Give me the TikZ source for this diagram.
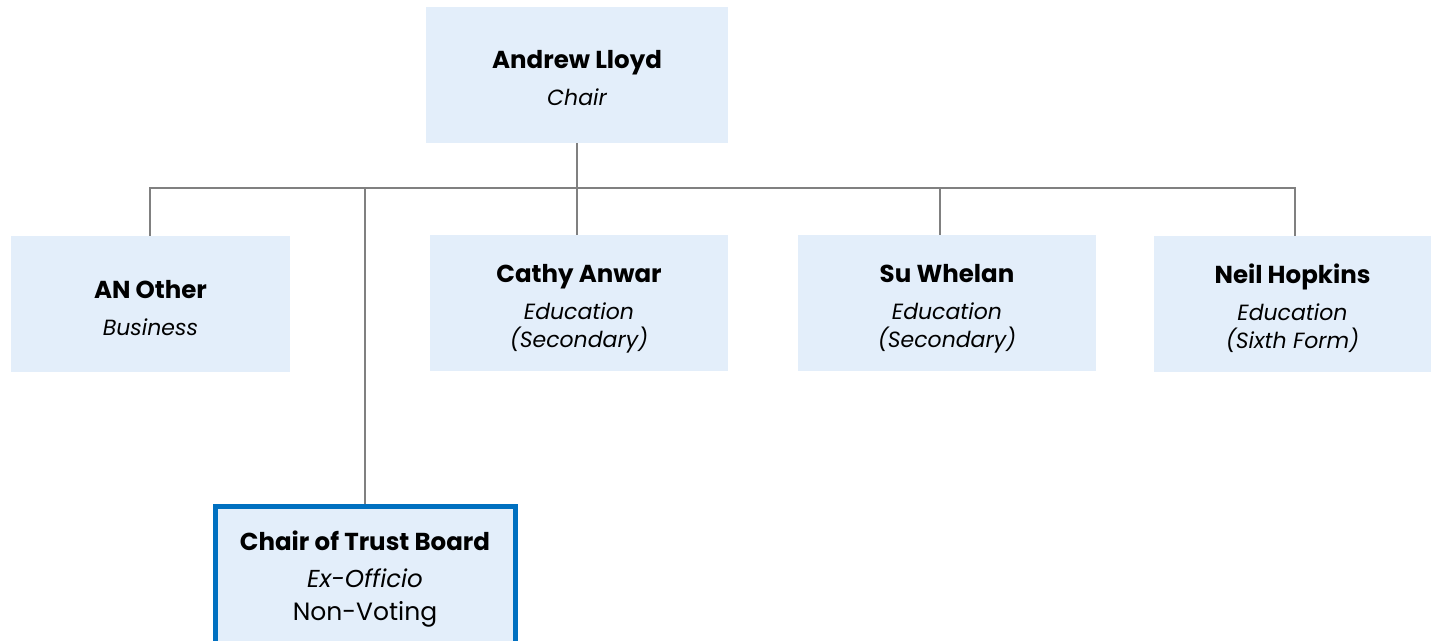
\documentclass[tikz,border=0pt]{standalone}
\usepackage{fontspec}
\setmainfont{Poppins}
\definecolor{boxfill}{RGB}{227,238,250}
\definecolor{linegray}{RGB}{128,128,128}
\definecolor{accentblue}{RGB}{0,112,192}
\newcommand{\nm}[1]{{\bfseries\fontsize{24.5}{28}\selectfont #1}\\[8.5pt]}
\begin{document}
\begin{tikzpicture}[x=1pt,y=-1pt,
  member/.style={fill=boxfill, draw=none, inner sep=0pt, minimum height=136pt},
  txt/.style={align=center, inner sep=0pt, font=\fontsize{22}{28}\selectfont},
  link/.style={draw=linegray, line width=2.6pt}]
\useasboundingbox (0,0) rectangle (1432,640);
\node[member, minimum width=302pt] (andrew) at (577,75) {};
\node[member, minimum width=279pt] (other) at (150.5,304) {};
\node[member, minimum width=298pt] (cathy) at (579,303) {};
\node[member, minimum width=298pt] (su) at (947,303) {};
\node[member, minimum width=277pt] (neil) at (1292.5,304) {};
\node[member, draw=accentblue, line width=5pt, minimum width=300pt, minimum height=140pt] (trust) at (365,576) {};
\node[txt] (andrewT) at ([yshift=-3pt]andrew.center) {\nm{Andrew Lloyd}\itshape Chair};
\node[txt] (otherT) at ([yshift=-4pt]other.center) {\nm{AN Other}\itshape Business};
\node[txt] (cathyT) at ([yshift=-6pt]cathy.center) {\nm{Cathy Anwar}\itshape Education\\\itshape(Secondary)};
\node[txt] (suT) at ([yshift=-6pt]su.center) {\nm{Su Whelan}\itshape Education\\\itshape(Secondary)};
\node[txt] (neilT) at ([yshift=-4pt]neil.center) {\nm{Neil Hopkins}\itshape Education\\\itshape(Sixth Form)};
\node[txt] (trustT) at ([yshift=-3pt]trust.center) {\nm{Chair of Trust Board}{\itshape\fontsize{24.5}{28}\selectfont Ex-Officio}\\[5pt]{\fontsize{25}{28}\selectfont Non-Voting}};
\coordinate (busL) at (150,188);
\coordinate (busR) at (1295,188);
\coordinate (busC) at (577,188);
\draw[link] (andrew.south) -- (busC) -- (busC |- cathy.north);
\draw[link] (other.north -| busL) -- (busL) -- (busR) -- (busR |- neil.north);
\draw[link] (365,188) -- (trust.north);
\draw[link] (940,188) -- (940,235);
\end{tikzpicture}
\end{document}
